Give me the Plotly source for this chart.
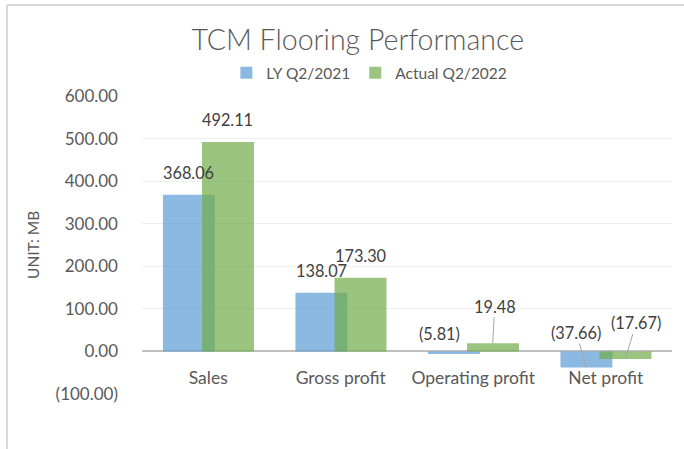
import plotly.graph_objects as go

categories = ["Sales", "Gross profit", "Operating profit", "Net profit"]
ly_values = [368.06, 138.07, -5.81, -37.66]
actual_values = [492.11, 173.30, 19.48, -17.67]
series_names = ["LY Q2/2021", "Actual Q2/2022"]
y_ticks = [-100, 0, 100, 200, 300, 400, 500, 600]


def fmt(v):
    return f"({abs(v):,.2f})" if v < 0 else f"{v:,.2f}"


FONT = "Lato"
TXT = "#595959"
LBL = "#404040"

fig = go.Figure()
fig.add_trace(go.Bar(x=categories, y=ly_values, name=series_names[0],
                     marker=dict(color="rgba(91,155,213,0.7)", line=dict(width=0)),
                     width=0.392, offset=-0.342))
fig.add_trace(go.Bar(x=categories, y=actual_values, name=series_names[1],
                     marker=dict(color="rgba(112,173,71,0.7)", line=dict(width=0)),
                     width=0.392, offset=-0.047))

PX_PER_CAT = 132.5
bar_shift = 0.147 * PX_PER_CAT

ann = []
for i in range(2):
    ann.append(dict(x=categories[i], y=ly_values[i], text=fmt(ly_values[i]), showarrow=False,
                    xshift=-bar_shift, yshift=22, yanchor="middle"))
    ann.append(dict(x=categories[i], y=actual_values[i], text=fmt(actual_values[i]), showarrow=False,
                    xshift=bar_shift, yshift=22, yanchor="middle"))
ann.append(dict(x=categories[2], y=ly_values[2], text=fmt(ly_values[2]), showarrow=False,
                xshift=-34, yshift=20, yanchor="middle"))
ann.append(dict(x=categories[2], y=actual_values[2], text=fmt(actual_values[2]), showarrow=True,
                arrowhead=0, arrowwidth=1, arrowcolor="#a6a6a6", standoff=0,
                xshift=bar_shift, ax=2, ay=-37))
ann.append(dict(x=categories[3], y=ly_values[3], text=fmt(ly_values[3]), showarrow=True,
                arrowhead=0, arrowwidth=1, arrowcolor="#a6a6a6", standoff=0,
                xshift=-bar_shift, ax=-10, ay=-35))
ann.append(dict(x=categories[3], y=actual_values[3], text=fmt(actual_values[3]), showarrow=True,
                arrowhead=0, arrowwidth=1, arrowcolor="#a6a6a6", standoff=0,
                xshift=bar_shift, ax=11, ay=-36))
for a in ann:
    a["font"] = dict(family=FONT, size=16.3, color=LBL)

ann.append(dict(xref="paper", yref="paper", x=-0.2057, y=0.5, text="UNIT: MB", textangle=-90,
                showarrow=False, font=dict(family=FONT, size=15.5, color=TXT),
                xanchor="center", yanchor="middle"))

shapes = [
    dict(type="line", xref="paper", yref="paper", x0=-0.2547, x1=1.08, y0=1.305, y1=1.305,
         line=dict(color="#d9d9d9", width=2)),
    dict(type="line", xref="paper", yref="paper", x0=-0.2547, x1=-0.2547, y0=1.305, y1=-0.25,
         line=dict(color="#d9d9d9", width=2)),
]

fig.update_layout(
    width=684, height=449,
    margin=dict(l=142, r=12, t=96, b=55, autoexpand=False),
    paper_bgcolor="white", plot_bgcolor="white",
    barmode="overlay",
    showlegend=True,
    title=dict(text="TCM Flooring Performance", x=0.523, xref="container", y=0.911,
               yref="container", xanchor="center", yanchor="middle",
               font=dict(family=FONT, size=28.5, color=TXT, weight=300)),
    legend=dict(orientation="h", x=0.429, xanchor="center", y=1.077, yanchor="middle",
                font=dict(family=FONT, size=15.5, color=TXT), bgcolor="rgba(0,0,0,0)"),
    annotations=ann,
    shapes=shapes,
    xaxis=dict(anchor="free", position=(0 - y_ticks[0]) / (y_ticks[-1] - y_ticks[0]),
               showline=False, showgrid=False, ticks="", ticklabelstandoff=14, automargin=False,
               tickfont=dict(family=FONT, size=17.5, color=TXT)),
    yaxis=dict(range=[y_ticks[0], y_ticks[-1]], tickvals=y_ticks, ticktext=[fmt(v) for v in y_ticks],
               showgrid=True, gridcolor="#efefef", gridwidth=1, automargin=False,
               zeroline=True, zerolinecolor="#bfbfbf", zerolinewidth=2,
               ticks="", ticklabelstandoff=23,
               tickfont=dict(family=FONT, size=17, color=TXT)),
)

fig.write_html("out.html", config={"displayModeBar": False},
               post_script="document.body.style.margin='0px';")
